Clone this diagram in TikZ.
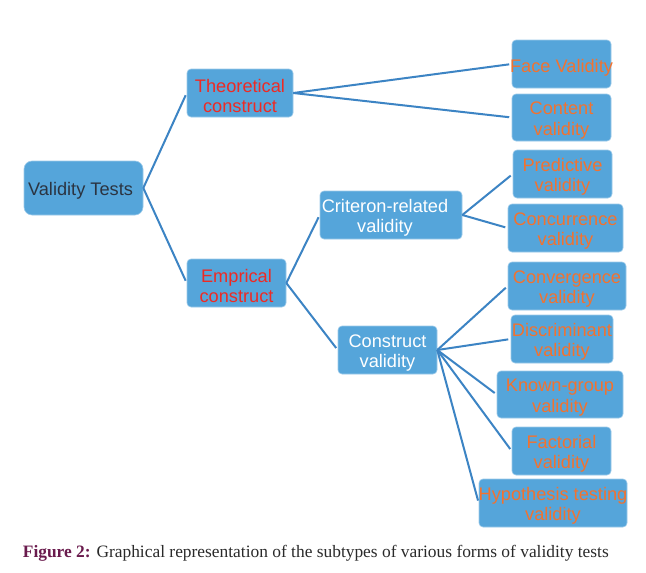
\documentclass[tikz,border=0pt]{standalone}
\usepackage{fontspec}
\setmainfont{Liberation Serif}
\newfontfamily\arialf{Liberation Sans}
\definecolor{boxfill}{HTML}{55A5DA}
\definecolor{boxedge}{HTML}{9CCAEA}
\definecolor{linec}{HTML}{3C84C4}
\definecolor{redt}{HTML}{EE2A24}
\definecolor{orat}{HTML}{F2722F}
\definecolor{darkt}{HTML}{2B3441}
\definecolor{figc}{HTML}{6A1B4D}
\definecolor{capc}{HTML}{2A2A2A}
\tikzset{
  vbox/.style={draw=boxedge, line width=0.6pt, fill=boxfill, rounded corners=4pt,
    inner sep=0pt, minimum height=48pt},
  vtxt/.style={inner sep=0pt, align=center, font=\arialf\fontsize{18.2}{20.5}\selectfont, yshift=-3pt},
  redt/.style={vtxt, text=redt},
  orat/.style={vtxt, text=orat},
  whtt/.style={vtxt, text=white},
  conn/.style={draw=linec, line width=2pt, shorten >=2.5pt},
}
\begin{document}
\begin{tikzpicture}[x=1pt,y=-1pt]
\useasboundingbox[fill=white] (0,0) rectangle (646,573);
% nodes
\node[vbox, rounded corners=8pt, minimum width=119pt, minimum height=54pt,
  label={[vtxt, text=darkt, xshift=-3pt, yshift=0pt]center:Validity Tests}] (vt) at (83.5,188) {};
\node[vbox, minimum width=106pt, label={[redt]center:Theoretical\\construct}] (th) at (240,93) {};
\node[vbox, minimum width=99pt, label={[redt]center:Emprical\\construct}] (em) at (236.5,283) {};
\node[vbox, minimum width=99pt, label={[orat, yshift=-1pt]center:Face Validity}] (fa) at (561.5,64) {};
\node[vbox, minimum width=99pt, minimum height=47pt, label={[orat]center:Content\\validity}] (co) at (561.5,117.5) {};
\node[vbox, minimum width=99pt, label={[orat]center:Predictive\\validity}] (pr) at (562.5,174) {};
\node[vbox, minimum width=115pt, label={[orat]center:Concurrence\\validity}] (cc) at (565.5,228) {};
\node[vbox, minimum width=142pt, label={[whtt, xshift=-6pt]center:Criteron-related\\validity}] (cr) at (391,215) {};
\node[vbox, minimum width=99pt, label={[whtt]center:Construct\\validity}] (cv) at (387.5,350) {};
\node[vbox, minimum width=118pt, label={[orat]center:Convergence\\validity}] (cg) at (567,286) {};
\node[vbox, minimum width=102pt, label={[orat]center:Discriminant\\validity}] (di) at (562,339) {};
\node[vbox, minimum width=126pt, minimum height=47pt, label={[orat]center:Known-group\\validity}] (kg) at (560,394.5) {};
\node[vbox, minimum width=99pt, label={[orat]center:Factorial\\validity}] (fc) at (561.5,451) {};
\node[vbox, minimum width=148pt, label={[orat]center:Hypothesis testing\\validity}] (hy) at (553,503) {};
% connectors
\draw[conn] (vt.east) -- (th.west);
\draw[conn] (vt.east) -- (em.west);
\draw[conn] (th.east) -- (fa.west);
\draw[conn] (th.east) -- (co.west);
\draw[conn] (em.east) -- (cr.west);
\draw[conn] (em.east) -- (cv.west);
\draw[conn] (cr.east) -- (pr.west);
\draw[conn] (cr.east) -- (cc.west);
\draw[conn] (cv.east) -- (cg.west);
\draw[conn] (cv.east) -- (di.west);
\draw[conn] (cv.east) -- (kg.west);
\draw[conn] (cv.east) -- (fc.west);
\draw[conn] (cv.east) -- (hy.west);
% caption
\node[anchor=base west, inner sep=0pt, font=\fontsize{17.4}{20}\selectfont, text=capc] (cap) at (22.7,557) {\textcolor{figc}{\textbf{Figure 2:}} Graphical representation of the subtypes of various forms of validity tests};
\end{tikzpicture}
\end{document}
